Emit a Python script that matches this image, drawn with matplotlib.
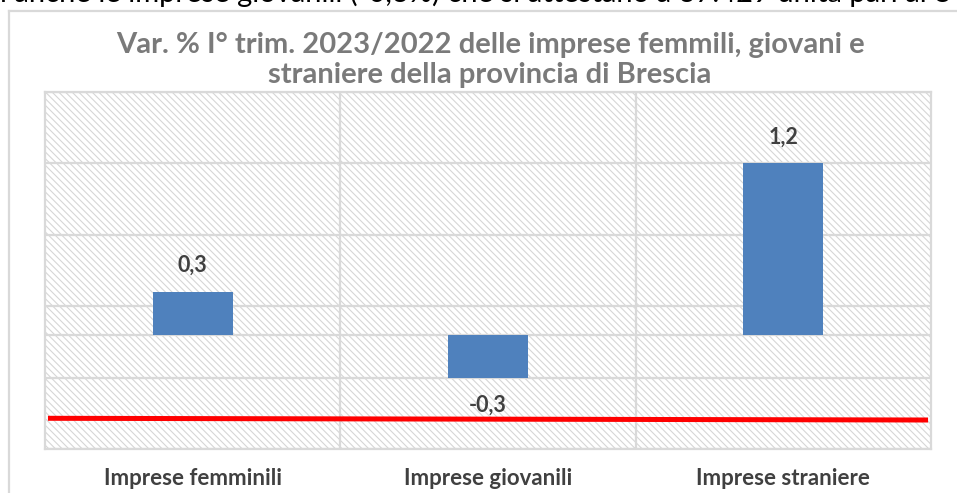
import matplotlib
matplotlib.use("Agg")
import matplotlib.pyplot as plt
import matplotlib.patches as mpatches
from matplotlib.lines import Line2D
import numpy as np

# dati
categorie = ["Imprese femminili", "Imprese giovanili", "Imprese straniere"]
variazioni = [0.3, -0.3, 1.2]
etichette = ["0,3", "-0,3", "1,2"]
y_ticks = [-0.8, -0.3, 0.2, 0.7, 1.2, 1.7]
linea_rossa = [-0.585, -0.597]

titolo = ["Var. % I° trim. 2023/2022 delle imprese femmili, giovani e",
          "straniere della provincia di Brescia"]
testo_sopra = "l anche le imprese giovanili (-0,3%) che si attestano a 37.429 unità pari al 8"

plt.rcParams['font.family'] = ['Lato', 'DejaVu Sans']
plt.rcParams['hatch.linewidth'] = 0.8
plt.rcParams['hatch.color'] = '#d6d6d6'

fig = plt.figure(figsize=(9.57, 4.93), dpi=100)
W, H = 957, 493

# riga di testo del documento, tagliata in alto come nell'originale
fig.text(0, 1 - 2 / H, testo_sopra, fontsize=21, color='black', va='baseline', ha='left')

# cornice del grafico
fig.add_artist(Line2D([9 / W, 9 / W], [0, 1 - 11 / H], color='#d9d9d9', lw=1.6))
fig.add_artist(Line2D([9 / W, 1], [1 - 11 / H, 1 - 11 / H], color='#d9d9d9', lw=1.6))

ax = fig.add_axes([45 / W, 44 / H, 886 / W, 357 / H])
ax.set_xlim(-0.5, 2.5)
ax.set_ylim(-0.8, 1.7)

# sfondo tratteggiato
ax.add_patch(mpatches.Rectangle((0, 0), 1, 1, transform=ax.transAxes, facecolor='white',
                                edgecolor='#d6d6d6', hatch='\\\\\\\\\\', lw=0, zorder=0))

# griglia
for t in y_ticks + [0]:
    ax.axhline(t, color='#d9d9d9', lw=1.6, zorder=1)
for xv in [0.5, 1.5]:
    ax.axvline(xv, color='#d9d9d9', lw=1.6, zorder=1)
for s in ax.spines.values():
    s.set_color('#d9d9d9')
    s.set_linewidth(1.6)

x = np.arange(len(categorie))
bars = ax.bar(x, variazioni, 0.27, color='#4f81bd', zorder=3)

for b, v, lab in zip(bars, variazioni, etichette):
    xc = b.get_x() + b.get_width() / 2
    off = 19 if v >= 0 else -20
    ax.annotate(lab, xy=(xc, v), xytext=(0, off), textcoords='offset points',
                ha='center', va='center', fontsize=15.5, fontweight='bold', color='#404040', zorder=4)

ax.plot([-0.49, 2.49], linea_rossa, color='red', lw=3.6, zorder=5, solid_capstyle='butt')

ax.set_yticks([])
ax.set_xticks(x)
ax.set_xticklabels(categorie, fontsize=16, fontweight='bold', color='#404040')
ax.tick_params(axis='x', length=0, pad=14)

for i, riga in enumerate(titolo):
    fig.text(490 / W, 1 - (45 + 30 * i) / H, riga, ha='center', va='center', fontsize=21,
             fontweight='bold', color='#7a7a7a')

fig.savefig("out.png", dpi=100)
